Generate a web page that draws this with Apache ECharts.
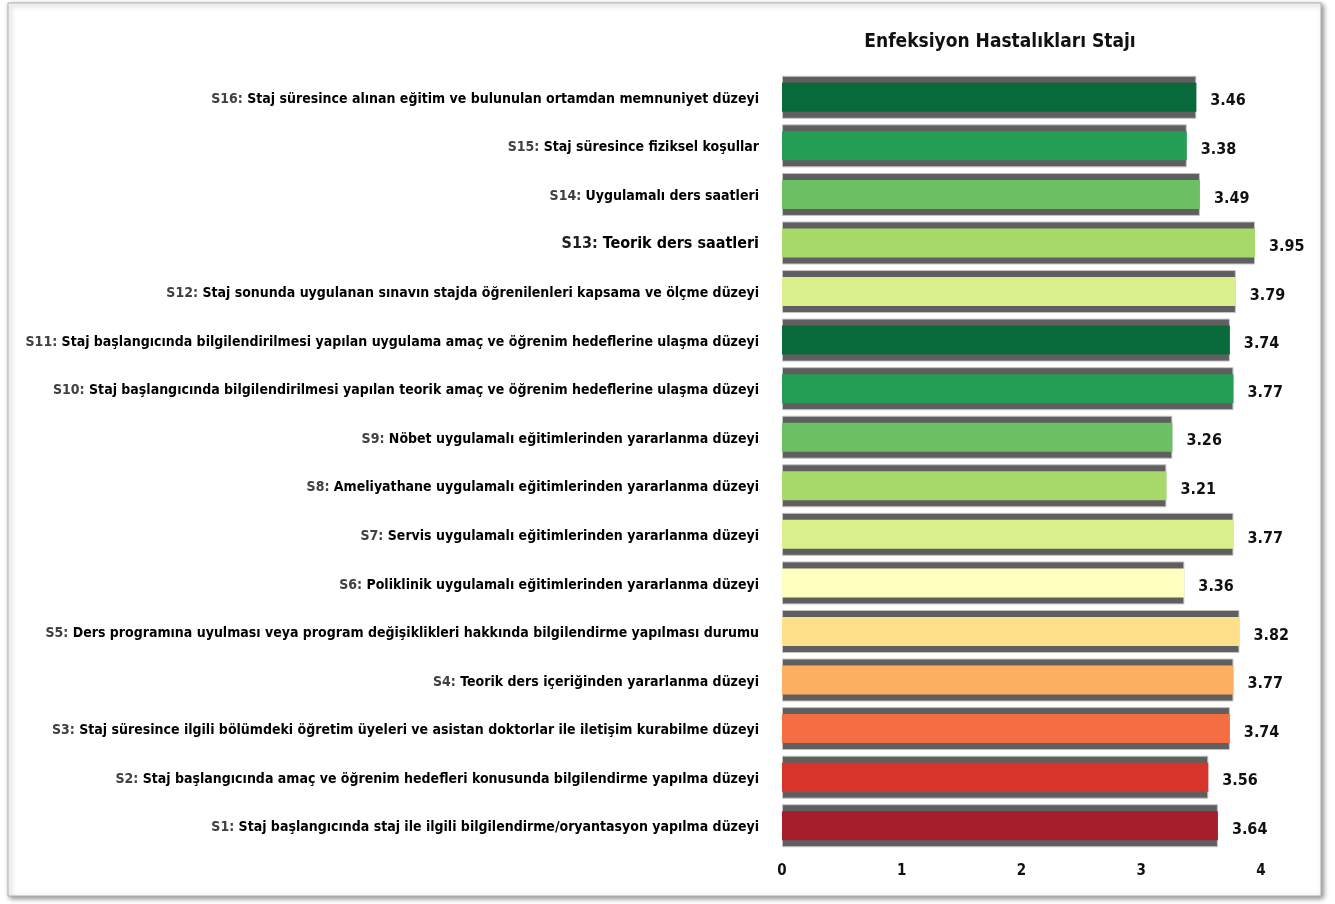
<!DOCTYPE html>
<html>
<head>
<meta charset="utf-8">
<script src="https://cdn.jsdelivr.net/npm/echarts@6/dist/echarts.min.js"></script>
<style>
html,body{margin:0;padding:0;background:#fff;}
#chart{width:1335px;height:904px;}
</style>
</head>
<body>
<div id="chart"></div>
<script>
var title = 'Enfeksiyon Hastalıkları Stajı';
var categories = [
  'S1: Staj başlangıcında staj ile ilgili bilgilendirme/oryantasyon yapılma düzeyi',
  'S2: Staj başlangıcında amaç ve öğrenim hedefleri konusunda bilgilendirme yapılma düzeyi',
  'S3: Staj süresince ilgili bölümdeki öğretim üyeleri ve asistan doktorlar ile iletişim kurabilme düzeyi',
  'S4: Teorik ders içeriğinden yararlanma düzeyi',
  'S5: Ders programına uyulması veya program değişiklikleri hakkında bilgilendirme yapılması durumu',
  'S6: Poliklinik uygulamalı eğitimlerinden yararlanma düzeyi',
  'S7: Servis uygulamalı eğitimlerinden yararlanma düzeyi',
  'S8: Ameliyathane uygulamalı eğitimlerinden yararlanma düzeyi',
  'S9: Nöbet uygulamalı eğitimlerinden yararlanma düzeyi',
  'S10: Staj başlangıcında bilgilendirilmesi yapılan teorik amaç ve öğrenim hedeflerine ulaşma düzeyi',
  'S11: Staj başlangıcında bilgilendirilmesi yapılan uygulama amaç ve öğrenim hedeflerine ulaşma düzeyi',
  'S12: Staj sonunda uygulanan sınavın stajda öğrenilenleri kapsama ve ölçme düzeyi',
  'S13: Teorik ders saatleri',
  'S14: Uygulamalı ders saatleri',
  'S15: Staj süresince fiziksel koşullar',
  'S16: Staj süresince alınan eğitim ve bulunulan ortamdan memnuniyet düzeyi'
];
var values = [3.64, 3.56, 3.74, 3.77, 3.82, 3.36, 3.77, 3.21, 3.26, 3.77, 3.74, 3.79, 3.95, 3.49, 3.38, 3.46];
var barColors = ['#a51c2b', '#d7352c', '#f46d43', '#fdae61', '#fee08b', '#ffffbf', '#d9ef8b', '#a6d96a', '#6bbf65', '#239e54', '#086a3b', '#d9ef8b', '#a6d96a', '#6bbf65', '#239e54', '#086a3b'];
var xTicks = [0, 1, 2, 3, 4];

var FONT = "'Liberation Sans Narrow', 'DejaVu Sans Condensed', 'Noto Sans', sans-serif";

var chart = echarts.init(document.getElementById('chart'));
var hiddenAxis = {
  type: 'category', data: categories, show: false,
  axisLine: {show: false}, axisTick: {show: false}, splitLine: {show: false}, axisLabel: {show: false}
};
var option = {
  backgroundColor: '#ffffff',
  animation: false,
  graphic: [{
    type: 'rect', z: -10, silent: true,
    shape: {x: 8, y: 3, width: 1313, height: 893},
    style: {fill: '#ffffff', stroke: '#b0b0b0', lineWidth: 1,
      shadowBlur: 5, shadowColor: 'rgba(0,0,0,0.45)', shadowOffsetX: 2, shadowOffsetY: 2}
  }],
  title: {
    text: title,
    left: 995, top: 28, textAlign: 'center',
    textStyle: {fontFamily: FONT, fontSize: 19, fontWeight: 'bold', color: '#111'}
  },
  grid: {left: 782, right: 74, top: 73, bottom: 54, containLabel: false},
  xAxis: {
    type: 'value', min: xTicks[0], max: xTicks[xTicks.length - 1], interval: 1,
    axisLine: {show: false}, axisTick: {show: false}, splitLine: {show: false},
    axisLabel: {margin: 14, fontFamily: FONT, fontSize: 15, fontWeight: 'bold', color: '#111'}
  },
  yAxis: [{
    type: 'category', data: categories,
    axisLine: {show: false}, axisTick: {show: false}, splitLine: {show: false},
    axisLabel: {
      margin: 23, fontFamily: FONT, fontSize: 14, fontWeight: 'bold', color: '#000',
      formatter: function (v) {
        var i = v.indexOf(':');
        var big = v.indexOf('S13') === 0;
        var p = v.slice(0, i + 1), t = v.slice(i + 1);
        return big ? '{pb|' + p + '}{tb|' + t + '}' : '{p|' + p + '}{t|' + t + '}';
      },
      rich: {
        p: {fontFamily: FONT, fontSize: 14, fontWeight: 'bold', color: '#404040', padding: [4, 0, 0, 0]},
        t: {fontFamily: FONT, fontSize: 14, fontWeight: 'bold', color: '#000', padding: [4, 0, 0, 0]},
        pb: {fontFamily: FONT, fontSize: 16, fontWeight: 'bold', color: '#202020', padding: [2, 0, 0, 0]},
        tb: {fontFamily: FONT, fontSize: 16, fontWeight: 'bold', color: '#000', padding: [2, 0, 0, 0]}
      }
    }
  }, hiddenAxis],
  series: [{
    type: 'bar', data: values, barWidth: 43, yAxisIndex: 0, z: 1,
    itemStyle: {color: '#5f5f5f', borderColor: '#c4c4c4', borderWidth: 1},
    silent: true
  }, {
    type: 'bar', barWidth: 29, yAxisIndex: 1, z: 2,
    data: values.map(function (v, i) { return {value: v, itemStyle: {color: barColors[i]}}; }),
    label: {
      show: true, position: 'right', distance: 14, offset: [0, 4],
      fontFamily: FONT, fontSize: 16, fontWeight: 'bold', color: '#111',
      formatter: function (p) { return p.value.toFixed(2); }
    }
  }]
};
chart.setOption(option);
</script>
</body>
</html>
